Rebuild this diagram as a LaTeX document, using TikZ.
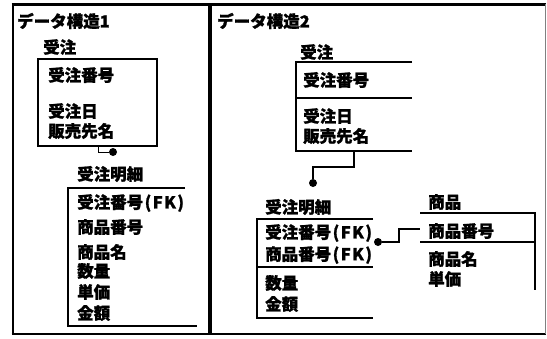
\documentclass[tikz,border=0pt]{standalone}
\usepackage{fontspec}
\newfontfamily\jp{Noto Sans CJK JP}[BoldFeatures={FakeBold=1.2}]
\newcommand{\fk}{\kern1.5pt(\kern1.5pt F\kern1.5pt K\kern1.5pt)}

\begin{document}
\begin{tikzpicture}[x=1pt,y=-1pt,
    txt/.style={anchor=west,inner sep=0pt,font=\jp\bfseries\fontsize{16.5}{16.5}\selectfont},
    tbl/.style={line width=1.3pt},
    lnk/.style={line width=1pt},
    dot/.style={circle,fill,inner sep=0pt,minimum size=8pt}]
\useasboundingbox (0,0) rectangle (547,338);
% === FRAME ===
\draw[line width=3pt] (11.5,4) -- (546,4);
\draw[line width=2.5pt] (13,4) -- (13,334);
\draw[line width=2.5pt] (11.5,334) -- (546,334);
\draw[line width=1pt,gray] (545,4) -- (545,334);
\draw[line width=3.5pt] (210,4) -- (210,334);
% === LEFT PANEL: data structure 1 ===
\node[txt] (ttl1) at (17,21) {データ構造1};
\node[txt] (ord1) at (43,47) {受注};
\draw[tbl] (38,59) rectangle (157,146);
\node[txt] (ord1a) at (48,75) {受注番号};
\node[txt] (ord1b) at (48,111) {受注日};
\node[txt] (ord1c) at (48,131) {販売先名};
\coordinate (ord1s) at (98,146);
\node[dot] (dot1) at (113,152) {};
\draw[lnk] (ord1s) |- (dot1.west);
\node[txt] (det1) at (77,174) {受注明細};
\draw[tbl] (185,188) -- (68,188) -- (68,326) -- (197,326);
\node[txt] (det1a) at (77,203) {受注番号\fk};
\node[txt] (det1b) at (77,227) {商品番号};
\node[txt] (det1c) at (77,252) {商品名};
\node[txt] (det1d) at (77,271) {数量};
\node[txt] (det1e) at (77,292) {単価};
\node[txt] (det1f) at (77,313) {金額};
% === RIGHT PANEL: data structure 2 ===
\node[txt] (ttl2) at (217,21) {データ構造2};
\node[txt] (ord2) at (300,52) {受注};
\draw[tbl] (412,62) -- (296,62) -- (296,151) -- (412,151);
\draw[tbl] (296,98) -- (412,98);
\node[txt] (ord2a) at (303,80) {受注番号};
\node[txt] (ord2b) at (303,116) {受注日};
\node[txt] (ord2c) at (303,136) {販売先名};
\coordinate (ord2s) at (354,151);
\node[dot] (dot2) at (313,183) {};
\draw[tbl] (ord2s) -- ++(0,16) -| (dot2);
\node[txt] (det2) at (265,207) {受注明細};
\draw[tbl] (373,219) -- (257,219) -- (257,318) -- (373,318);
\draw[tbl] (257,267) -- (373,267);
\node[txt] (det2a) at (265,233) {受注番号\fk};
\node[txt] (det2b) at (265,255) {商品番号\fk};
\node[txt] (det2c) at (265,283) {数量};
\node[txt] (det2d) at (265,304) {金額};
\node[dot] (dot3) at (378,242) {};
\node[txt] (itm) at (428,202) {商品};
\draw[tbl] (420,213) -- (535,213) -- (535,290);
\draw[tbl] (420,242) -- (535,242);
\coordinate (itms) at (420,229);
\draw[tbl] (dot3) -- (399,242) |- (itms);
\node[txt] (itma) at (428,231) {商品番号};
\node[txt] (itmb) at (428,259) {商品名};
\node[txt] (itmc) at (428,279) {単価};
\end{tikzpicture}
\end{document}
